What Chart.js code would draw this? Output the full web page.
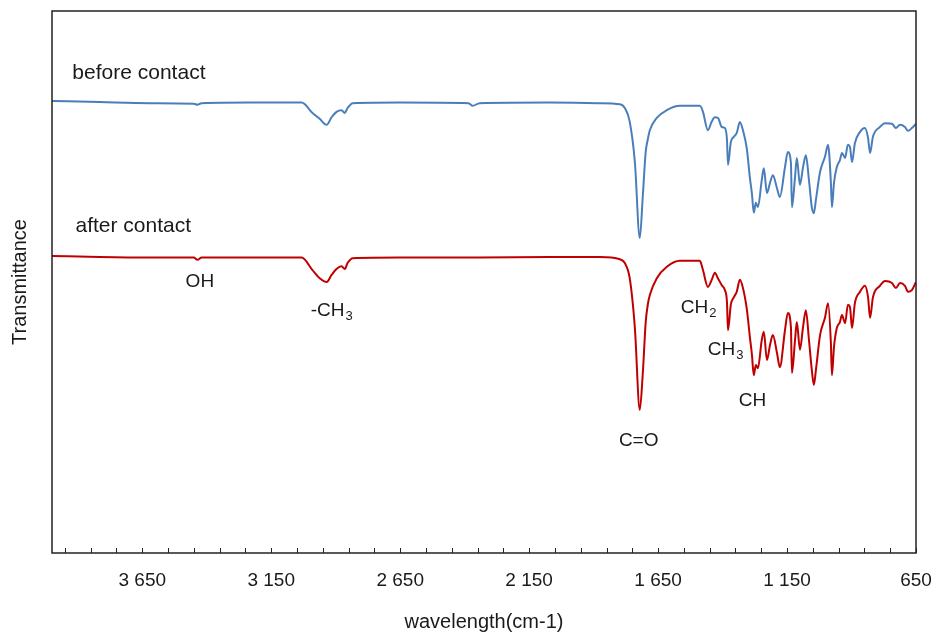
<!DOCTYPE html>
<html>
<head>
<meta charset="utf-8">
<script src="https://cdn.jsdelivr.net/npm/chart.js@4"></script>
<style>
  html, body { margin: 0; padding: 0; background: #fff; }
  #wrap { width: 936px; height: 639px; }
</style>
</head>
<body>
<div id="wrap"><canvas id="chart"></canvas></div>
<script>
// wavenumbers (cm-1), shared by both spectra
const wavenumbers = [4000, 3816, 3622, 3450, 3436, 3420, 3234, 3032, 2990, 2962, 2935, 2916, 2897, 2877, 2865, 2854, 2834, 2652, 2385, 2369, 2342, 2070,
  1876, 1798, 1779, 1760, 1740, 1721, 1709, 1698, 1690, 1682, 1655, 1616, 1566, 1488, 1476, 1457, 1442, 1430, 1418, 1403, 1391, 1383, 1379, 1368,
  1356, 1345, 1333, 1321, 1306, 1294, 1286, 1279, 1271, 1263, 1248, 1240, 1228, 1216, 1205, 1189, 1178, 1158, 1147, 1135, 1131, 1119, 1112, 1100,
  1088, 1077, 1065, 1054, 1046, 1038, 1022, 1003, 991, 980, 976, 968, 957, 945, 937, 925, 914, 906, 898, 887, 867, 848, 836, 828, 817, 790,
  770, 743, 728, 712, 693, 681, 666, 650];

const beforeContact = [83.4, 83.2, 83.0, 82.9, 82.7, 83.0, 83.1, 83.1, 81.2, 80.1, 79.0, 80.4, 81.4, 81.7, 81.2, 82.1, 83.0, 83.1, 83.0, 82.5, 83.0, 83.1,
  83.0, 82.8, 82.1, 79.6, 72.1, 58.1, 66.1, 74.0, 76.3, 78.0, 80.3, 81.7, 82.5, 82.5, 81.4, 78.0, 79.6, 80.4, 80.3, 78.6, 78.4, 76.3, 71.6, 75.8,
  76.8, 77.5, 79.5, 78.0, 74.6, 69.2, 66.2, 62.8, 64.6, 63.8, 68.8, 71.0, 66.4, 68.3, 69.7, 67.3, 65.7, 71.2, 74.0, 72.0, 63.8, 69.4, 72.9, 67.9,
  71.2, 73.4, 68.8, 63.8, 62.7, 65.2, 70.3, 73.1, 75.3, 68.3, 63.8, 68.3, 71.2, 72.5, 73.8, 72.9, 75.3, 74.9, 72.1, 75.6, 77.7, 78.4, 76.6, 73.8, 76.8, 78.6,
  79.3, 79.2, 78.4, 79.0, 78.6, 77.9, 78.4, 79.2];

const afterContact = [54.8, 54.6, 54.5, 54.5, 54.1, 54.5, 54.5, 54.5, 52.2, 50.7, 50.0, 51.3, 52.4, 52.9, 52.4, 53.5, 54.4, 54.5, 54.5, 54.5, 54.5, 54.6,
  54.6, 54.2, 53.5, 50.7, 41.5, 26.4, 33.4, 42.6, 45.8, 47.6, 50.7, 52.8, 53.9, 53.9, 52.2, 49.1, 50.4, 51.7, 50.7, 49.4, 48.5, 46.3, 41.1, 45.8,
  47.2, 48.2, 50.4, 48.9, 45.0, 39.8, 36.5, 32.8, 34.7, 34.1, 39.3, 40.8, 35.6, 38.4, 40.2, 36.9, 34.3, 41.1, 44.3, 41.7, 33.2, 39.3, 42.6, 37.5,
  41.7, 44.8, 39.3, 33.8, 31.0, 33.8, 40.2, 43.4, 46.1, 38.7, 32.8, 38.0, 41.5, 42.6, 43.9, 42.4, 45.8, 45.4, 41.5, 46.1, 48.2, 49.3, 47.2, 43.4, 47.2, 49.3,
  50.2, 49.8, 48.9, 49.8, 49.3, 48.2, 48.5, 50.0];

// x tick labels
const labelValues = [3650, 3150, 2650, 2150, 1650, 1150, 650];
const tickLabels = ['3 650', '3 150', '2 650', '2 150', '1 650', '1 150', '650'];

// text labels in the plot (left edge / baseline in data units)
const noteText = ['before contact', 'after contact', 'OH', '-CH', 'C=O', 'CH', 'CH', 'CH'];
const noteSub = ['', '', '', '3', '', '2', '3', ''];
const noteX = [3921, 3909, 3482, 2997, 1802, 1562, 1457, 1337];
const noteY = [87.5, 59.2, 49.1, 43.7, 19.7, 44.3, 36.5, 27.1];

const FONT = '"Liberation Sans", Arial, sans-serif';

const extras = {
  id: 'extras',
  afterDatasetsDraw(chart) {
    const { ctx, chartArea: a, scales: { x, y } } = chart;
    ctx.save();
    // frame
    ctx.strokeStyle = '#222';
    ctx.lineWidth = 1.5;
    ctx.strokeRect(a.left, a.top, a.right - a.left, a.bottom - a.top);
    // inside tick marks
    ctx.lineWidth = 1;
    x.ticks.forEach(t => {
      const px = Math.round(x.getPixelForValue(t.value)) + 0.5;
      ctx.beginPath();
      ctx.moveTo(px, a.bottom);
      ctx.lineTo(px, a.bottom - 5);
      ctx.stroke();
    });
    // notes
    ctx.fillStyle = '#1a1a1a';
    ctx.textAlign = 'left';
    ctx.textBaseline = 'alphabetic';
    noteText.forEach((txt, i) => {
      const px = x.getPixelForValue(noteX[i]);
      const py = y.getPixelForValue(noteY[i]);
      ctx.font = (i < 2 ? '21px ' : '19px ') + FONT;
      ctx.fillText(txt, px, py);
      if (noteSub[i]) {
        const w = ctx.measureText(txt).width;
        ctx.font = '13px ' + FONT;
        ctx.fillText(noteSub[i], px + w + 1, py + 4);
      }
    });
    ctx.restore();
  }
};

new Chart(document.getElementById('chart'), {
  type: 'line',
  data: {
    datasets: [
      {
        label: 'before contact',
        data: wavenumbers.map((w, i) => ({ x: w, y: beforeContact[i] })),
        borderColor: '#4A7EBB',
        borderWidth: 2,
        pointRadius: 0,
        cubicInterpolationMode: 'monotone'
      },
      {
        label: 'after contact',
        data: wavenumbers.map((w, i) => ({ x: w, y: afterContact[i] })),
        borderColor: '#C00000',
        borderWidth: 2,
        pointRadius: 0,
        cubicInterpolationMode: 'monotone'
      }
    ]
  },
  options: {
    responsive: true,
    maintainAspectRatio: false,
    animation: false,
    layout: { padding: { top: 11, right: 20, left: 0, bottom: 0 } },
    plugins: { legend: { display: false }, tooltip: { enabled: false } },
    scales: {
      x: {
        type: 'linear',
        reverse: true,
        min: 650,
        max: 4000,
        grid: { display: false, drawTicks: false },
        border: { display: false },
        afterBuildTicks: scale => {
          const ticks = [];
          for (let v = 650; v < 4000; v += 100) ticks.push({ value: v });
          scale.ticks = ticks;
        },
        afterFit: scale => { scale.height = 86; },
        ticks: {
          autoSkip: false,
          maxRotation: 0,
          padding: 16,
          color: '#1a1a1a',
          font: { family: FONT, size: 19 },
          callback: v => {
            const i = labelValues.indexOf(v);
            return i >= 0 ? tickLabels[i] : '';
          }
        },
        title: {
          display: true,
          text: 'wavelength(cm-1)',
          color: '#1a1a1a',
          font: { family: FONT, size: 20 },
          padding: { top: 0, bottom: 5 }
        }
      },
      y: {
        min: 0,
        max: 100,
        grid: { display: false, drawTicks: false },
        border: { display: false },
        ticks: { display: false },
        afterFit: scale => { scale.width = 52; },
        title: {
          display: true,
          text: 'Transmittance',
          color: '#1a1a1a',
          font: { family: FONT, size: 20 },
          padding: { top: 8, bottom: 0 }
        }
      }
    }
  },
  plugins: [extras]
});
</script>
</body>
</html>
